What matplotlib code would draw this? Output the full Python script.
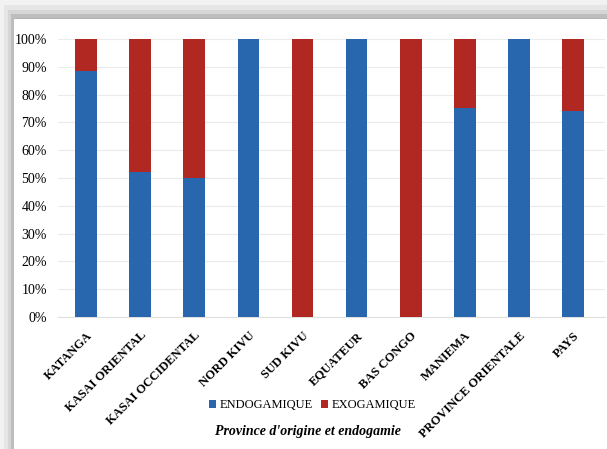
import matplotlib.pyplot as plt
import matplotlib.patches as mpatches
import numpy as np

provinces = ['KATANGA', 'KASAI ORIENTAL', 'KASAI OCCIDENTAL', 'NORD KIVU', 'SUD KIVU',
             'EQUATEUR', 'BAS CONGO', 'MANIEMA', 'PROVINCE ORIENTALE', 'PAYS']
endo = [88.5, 52.3, 50.0, 100, 0, 100, 0, 75.2, 100, 74.1]
exo = [100 - v for v in endo]

blue = '#2866ae'
red = '#b12823'

plt.rcParams['font.family'] = ['Liberation Serif', 'DejaVu Serif']

W, H = 607, 449
fig = plt.figure(figsize=(W / 100, H / 100), dpi=100)

# shadowed frame around the chart (graded gray bands, top and left)
bands = [(0, '#f2f2f2'), (4, '#e6e6e6'), (8, '#d6d6d6'), (11, '#bdbdbd'), (14, '#b2b2b2')]
for off, col in bands:
    fig.patches.append(mpatches.Rectangle((off / W, 0), 1, 1 - off * 1.3 / H,
                                          transform=fig.transFigure, facecolor=col,
                                          edgecolor='none', zorder=-3))
fig.patches.append(mpatches.Rectangle((14 / W, 0), 1, 1 - 19 / H, transform=fig.transFigure,
                                      facecolor='white', edgecolor='none', zorder=-2))

ax = fig.add_axes([58 / W, 1 - 317 / H, 547 / W, 278 / H])
x = np.arange(len(provinces))
ax.bar(x, endo, width=0.4, color=blue, label='ENDOGAMIQUE', zorder=3)
ax.bar(x, exo, bottom=endo, width=0.4, color=red, label='EXOGAMIQUE', zorder=3)

ax.set_ylim(0, 100)
ax.set_xlim(-0.518, 9.59)
ax.set_yticks(np.arange(0, 101, 10))
ax.set_yticklabels([f'{v}%' for v in range(0, 101, 10)], fontsize=10)
ax.set_xticks(x)
ax.set_xticklabels(provinces, rotation=45, ha='right', rotation_mode='anchor',
                   fontsize=9, fontweight='bold')
ax.tick_params(axis='x', length=0, pad=9)
ax.tick_params(axis='y', length=0, pad=8)
ax.yaxis.grid(True, color='#ebebeb', linewidth=0.8, zorder=0)
for s in ['top', 'right', 'left']:
    ax.spines[s].set_visible(False)
ax.spines['bottom'].set_color('#e0e0e0')

fig.legend(loc='center', bbox_to_anchor=(0.515, 1 - 405 / H), ncol=2, frameon=False,
           fontsize=9, handlelength=0.6, handleheight=0.6, handletextpad=0.3,
           columnspacing=0.6)
fig.text(0.508, 1 - 432 / H, "Province d'origine et endogamie", ha='center', va='center',
         fontsize=10, fontweight='bold', fontstyle='italic')

fig.savefig('out.png', dpi=100)
